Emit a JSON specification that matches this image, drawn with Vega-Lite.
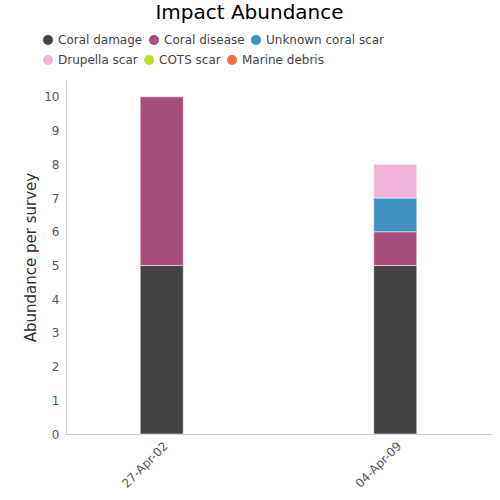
{
  "$schema": "https://vega.github.io/schema/vega-lite/v6.json",
  "width": 425,
  "height": 354,
  "padding": {"left": 23, "top": 3, "right": 8, "bottom": 5},
  "background": "white",
  "title": {
    "text": "Impact Abundance",
    "font": "DejaVu Sans",
    "fontSize": 20,
    "fontWeight": "normal",
    "color": "#000000",
    "anchor": "middle",
    "dx": -29,
    "offset": 11
  },
  "data": {
    "values": [
      {"date": "27-Apr-02", "type": "Coral damage", "order": 1, "value": 5},
      {"date": "27-Apr-02", "type": "Coral disease", "order": 2, "value": 5},
      {"date": "04-Apr-09", "type": "Coral damage", "order": 1, "value": 5},
      {"date": "04-Apr-09", "type": "Coral disease", "order": 2, "value": 1},
      {"date": "04-Apr-09", "type": "Unknown coral scar", "order": 3, "value": 1},
      {"date": "04-Apr-09", "type": "Drupella scar", "order": 4, "value": 1}
    ]
  },
  "encoding": {
    "x": {
      "field": "date",
      "type": "nominal",
      "sort": ["27-Apr-02", "04-Apr-09"],
      "scale": {"type": "point", "padding": 0.41},
      "axis": {
        "title": null,
        "labelAngle": -45,
        "labelFont": "DejaVu Sans",
        "labelFontSize": 12,
        "labelColor": "#555555",
        "ticks": false,
        "domainColor": "#cccccc",
        "labelPadding": 6
      }
    },
    "y": {
      "field": "value",
      "type": "quantitative",
      "stack": "zero",
      "scale": {"domain": [0, 10.5], "nice": false},
      "axis": {
        "title": "Abundance per survey",
        "titleFont": "DejaVu Sans",
        "titleFontSize": 15,
        "titleFontWeight": "normal",
        "titleColor": "#333333",
        "titlePadding": 5,
        "values": [0, 1, 2, 3, 4, 5, 6, 7, 8, 9, 10],
        "labelFont": "DejaVu Sans",
        "labelFontSize": 12,
        "labelColor": "#555555",
        "labelPadding": 7,
        "ticks": false,
        "grid": false,
        "domainColor": "#cccccc"
      }
    },
    "order": {"field": "order", "type": "quantitative"}
  },
  "layer": [
    {
      "mark": {"type": "bar", "width": 43, "stroke": "white", "strokeOpacity": 0.5, "strokeWidth": 1},
      "encoding": {
        "color": {
          "field": "type",
          "type": "nominal",
          "scale": {
            "domain": ["Coral damage", "Coral disease", "Unknown coral scar", "Drupella scar", "COTS scar", "Marine debris"],
            "range": ["#434343", "#a64d79", "#4190c2", "#f1b4d9", "#b8e12f", "#f46d43"]
          },
          "legend": null
        }
      }
    },
    {
      "transform": [{"filter": "false"}],
      "mark": {"type": "bar", "width": 43},
      "encoding": {
        "color": {
          "field": "type",
          "type": "nominal",
          "scale": {
            "domain": ["Coral damage", "Coral disease", "Unknown coral scar"],
            "range": ["#434343", "#a64d79", "#4190c2"]
          },
          "legend": {
            "title": null,
            "orient": "none",
            "legendX": -24,
            "legendY": -46,
            "direction": "horizontal",
            "columns": 3,
            "symbolType": "circle",
            "symbolSize": 100,
            "symbolStrokeWidth": 0,
            "symbolOpacity": 1,
            "labelFont": "DejaVu Sans",
            "labelFontSize": 12,
            "labelColor": "#444444",
            "columnPadding": 5,
            "labelOffset": 4
          }
        }
      }
    },
    {
      "transform": [{"filter": "false"}],
      "mark": {"type": "bar", "width": 43},
      "encoding": {
        "fill": {
          "field": "type",
          "type": "nominal",
          "scale": {
            "domain": ["Drupella scar", "COTS scar", "Marine debris"],
            "range": ["#f1b4d9", "#b8e12f", "#f46d43"]
          },
          "legend": {
            "title": null,
            "orient": "none",
            "legendX": -24,
            "legendY": -26,
            "direction": "horizontal",
            "columns": 3,
            "symbolType": "circle",
            "symbolSize": 100,
            "symbolStrokeWidth": 0,
            "symbolOpacity": 1,
            "labelFont": "DejaVu Sans",
            "labelFontSize": 12,
            "labelColor": "#444444",
            "columnPadding": 5,
            "labelOffset": 4
          }
        }
      }
    }
  ],
  "resolve": {"scale": {"color": "independent", "fill": "independent"}, "legend": {"color": "independent", "fill": "independent"}},
  "config": {"view": {"stroke": null}}
}
